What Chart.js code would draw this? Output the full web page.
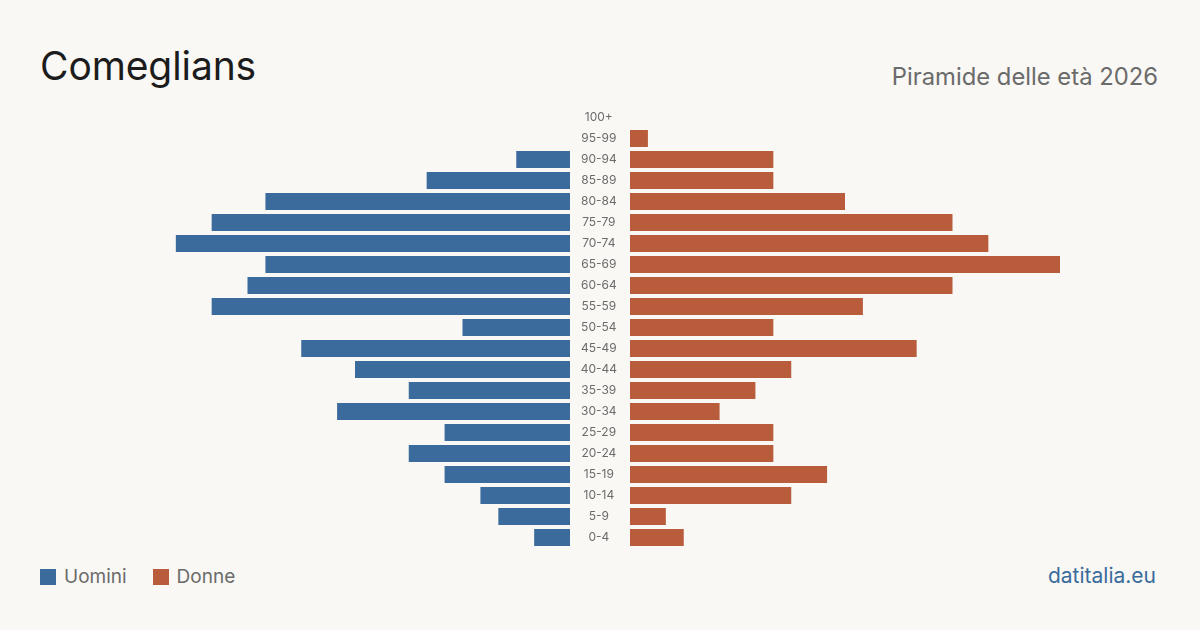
<!DOCTYPE html>
<html><head><meta charset="utf-8">
<script src="https://cdn.jsdelivr.net/npm/chart.js@4/dist/chart.umd.min.js"></script>
<style>
html,body{margin:0;padding:0;background:#f9f8f4;}
body{width:1200px;height:630px;position:relative;overflow:hidden;font-family:Inter,"Noto Sans",sans-serif;}
#title{position:absolute;left:40px;top:46px;font-size:39px;color:#1c1c1c;line-height:1;letter-spacing:-0.1px;}
#sub{position:absolute;right:42px;top:65px;font-size:23.8px;color:#6b6b6b;line-height:1;}
#legend{position:absolute;left:40px;top:566px;font-size:19px;color:#6b6b6b;display:flex;align-items:center;line-height:22px;}
.sw{display:inline-block;width:16px;height:16px;margin-right:8px;}
.item{display:flex;align-items:center;margin-right:26px;}
#src{position:absolute;right:44px;top:565px;font-size:21px;color:#3a6b9c;line-height:22px;}
#lw{position:absolute;left:140px;top:107px;width:430px;height:441px;}
#rw{position:absolute;left:570px;top:107px;width:490px;height:441px;}
</style></head>
<body>
<div id="title">Comeglians</div>
<div id="sub">Piramide delle età 2026</div>
<div id="lw"><canvas id="left"></canvas></div>
<div id="rw"><canvas id="right"></canvas></div>
<div id="legend">
 <div class="item"><span class="sw" style="background:#3a6b9c"></span>Uomini</div>
 <div class="item"><span class="sw" style="background:#b95c3c"></span>Donne</div>
</div>
<div id="src">datitalia.eu</div>
<script>
const ageGroups = ['0-4','5-9','10-14','15-19','20-24','25-29','30-34','35-39','40-44','45-49','50-54','55-59','60-64','65-69','70-74','75-79','80-84','85-89','90-94','95-99','100+'];
const men   = [2,4,5,7,9,7,13,9,12,15,6,20,18,17,22,20,17,8,3,0,0];
const women = [3,2,9,11,8,8,5,7,9,16,8,13,18,24,20,18,12,8,8,1,0];
const maxValue = 24;
const colorMen = '#3a6b9c';
const colorWomen = '#b95c3c';

function baseOpts(reverseX, showY){
  const y = {display:showY, reverse:true, offset:true,
         grid:{display:false, drawTicks:false}, border:{display:false},
         ticks:{crossAlign:'center', padding:13, color:'#6b6b6b', font:{family:'Inter', size:12}, autoSkip:false}};
  if (showY) y.afterFit = s => { s.width = 60; s.paddingTop = 0; s.paddingBottom = 0; };
  return {
    indexAxis:'y', responsive:true, maintainAspectRatio:false, animation:false,
    layout:{padding:0},
    plugins:{legend:{display:false}, tooltip:{enabled:false}},
    scales:{
      x:{display:false, min:0, max:maxValue, reverse:reverseX},
      y
    }
  };
}
new Chart(document.getElementById('left'), {
  type:'bar',
  data:{labels:ageGroups, datasets:[{data:men, backgroundColor:colorMen, categoryPercentage:1, barPercentage:0.81}]},
  options: baseOpts(true, false)
});
new Chart(document.getElementById('right'), {
  type:'bar',
  data:{labels:ageGroups, datasets:[{data:women, backgroundColor:colorWomen, categoryPercentage:1, barPercentage:0.81}]},
  options: baseOpts(false, true)
});
</script>
</body></html>
